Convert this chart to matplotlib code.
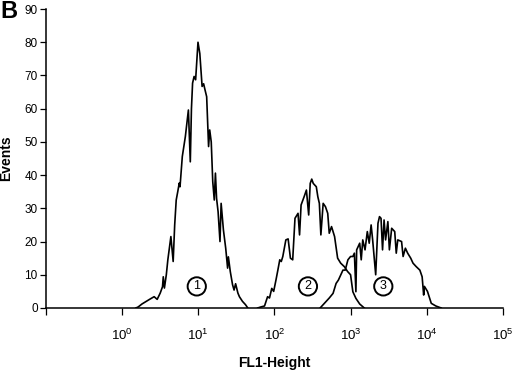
import numpy as np
import matplotlib
matplotlib.use("Agg")
import matplotlib.pyplot as plt

plt.rcParams['font.family'] = ['Liberation Sans', 'DejaVu Sans']
plt.rcParams['mathtext.fontset'] = 'custom'
plt.rcParams['mathtext.rm'] = 'Liberation Sans'

# peak 1 (log10 FL1, events)
log_fl1_1 = [0.18, 0.21, 0.26, 0.31, 0.36, 0.42, 0.46, 0.50, 0.53, 0.54, 0.555, 0.58, 0.60, 0.64, 0.67,
             0.69, 0.71, 0.73, 0.75, 0.76, 0.79, 0.83, 0.87, 0.895, 0.91, 0.925, 0.945, 0.965, 0.996,
             1.02, 1.05, 1.07, 1.09, 1.11, 1.135, 1.15, 1.17, 1.19, 1.21, 1.225, 1.24, 1.26, 1.285,
             1.30, 1.33, 1.36, 1.385, 1.395, 1.42, 1.45, 1.47, 1.49, 1.52, 1.54, 1.58, 1.62, 1.65]
events_1 = [0, 0.3, 1.2, 1.9, 2.6, 3.4, 2.6, 4.5, 6.4, 9.4, 6, 10, 14.5, 21.5, 14,
            25, 32.5, 35, 37.6, 36.5, 45.6, 51.6, 59.6, 44, 60, 67.7, 69.7, 68.7, 80,
            76.6, 66.7, 67.5, 65.5, 63.6, 48.6, 53.6, 50, 38, 32.5, 40.6, 33, 29, 20,
            31.5, 23.5, 18, 12, 15.4, 11, 7, 5.4, 7.3, 4.5, 3.4, 2, 1, 0]

# peak 2
log_fl1_2 = [1.78, 1.82, 1.87, 1.89, 1.91, 1.935, 1.965, 1.99, 2.02, 2.045, 2.07, 2.09, 2.11, 2.15,
             2.18, 2.21, 2.24, 2.27, 2.31, 2.33, 2.35, 2.39, 2.42, 2.45, 2.47, 2.49, 2.51, 2.55,
             2.57, 2.59, 2.61, 2.64, 2.67, 2.70, 2.72, 2.75, 2.79, 2.83, 2.87, 2.92, 2.96, 3.00,
             3.03, 3.07, 3.12, 3.18]
events_2 = [0, 0.3, 0.6, 2, 3.4, 3, 5.9, 5, 8.4, 11.4, 14.5, 14, 15.5, 20.5,
            20.8, 15, 14.5, 27, 28.5, 22, 31, 33.5, 35.5, 28, 37.5, 38.8, 37.5, 36.5,
            33.5, 31.5, 22, 31.5, 30.5, 28.5, 22.5, 24.5, 21.5, 15, 13.5, 12.4, 11, 10,
            4.9, 2.9, 1.2, 0]

# peak 3
log_fl1_3 = [2.60, 2.66, 2.72, 2.77, 2.81, 2.84, 2.88, 2.90, 2.93, 2.965, 3.00, 3.03, 3.05, 3.07,
             3.08, 3.12, 3.14, 3.16, 3.19, 3.22, 3.245, 3.27, 3.29, 3.33, 3.36, 3.38, 3.40, 3.42,
             3.44, 3.46, 3.49, 3.51, 3.54, 3.58, 3.60, 3.62, 3.67, 3.69, 3.72, 3.75, 3.79, 3.82,
             3.86, 3.91, 3.94, 3.96, 3.97, 4.01, 4.06, 4.12, 4.19]
events_3 = [0, 1.5, 3, 4.4, 7.4, 8.4, 10.4, 11.4, 11.4, 14.5, 15.5, 15.5, 16.5, 4.9,
            17.5, 19.5, 14.5, 20.5, 17.5, 23, 19.5, 25, 20.5, 10, 25.5, 27.5, 27, 17.5,
            26.5, 20.5, 26, 17.5, 24, 23, 16.5, 20.5, 20, 15.5, 18, 16.5, 15, 13.5,
            12.5, 11.4, 9.4, 3.9, 6.5, 5, 1.4, 0.6, 0]

peak_labels = ['1', '2', '3']
peak_label_pos = [0.98, 2.44, 3.43]
peak_label_y = 6.5

x_ticks = [1e-1, 1e0, 1e1, 1e2, 1e3, 1e4, 1e5]
x_tick_labels = ['', '10$^{0}$', '10$^{1}$', '10$^{2}$', '10$^{3}$', '10$^{4}$', '10$^{5}$']
y_ticks = np.arange(0, 91, 10)

fig = plt.figure(figsize=(5.2, 3.7), dpi=100)
ax = fig.add_axes([0.0885, 0.1676, 0.8785, 0.808])

for lx, ev in [(log_fl1_1, events_1), (log_fl1_2, events_2), (log_fl1_3, events_3)]:
    ax.plot(10 ** np.array(lx), ev, color='black', lw=1.2)

for lab, pos in zip(peak_labels, peak_label_pos):
    ax.text(10 ** pos, peak_label_y, lab, ha='center', va='center', fontsize=9,
            bbox=dict(boxstyle='circle,pad=0.25', fc='white', ec='black', lw=1.4))

ax.set_xscale('log')
ax.set_xlim(1e-1, 1e5)
ax.set_ylim(0, 90)
ax.set_xticks(x_ticks)
ax.set_xticklabels(x_tick_labels, fontsize=9.5)
ax.minorticks_off()
ax.set_yticks(y_ticks)
ax.tick_params(axis='y', labelsize=8.5, length=4, width=0.9, direction='out', pad=2)
ax.tick_params(axis='x', length=5, width=0.9, direction='out', pad=9)
for s in ['top', 'right']:
    ax.spines[s].set_visible(False)
for s in ['left', 'bottom']:
    ax.spines[s].set_linewidth(1.1)

ax.set_xlabel('FL1-Height', fontsize=10, fontweight='bold')
ax.set_ylabel('Events', fontsize=10, fontweight='bold')
ax.xaxis.set_label_coords(0.5, -0.16)
ax.yaxis.set_label_coords(-0.072, 0.5)
fig.text(0.0, 1.0, 'B', fontsize=17, fontweight='bold', ha='left', va='top')

fig.savefig('out.png', dpi=100)
